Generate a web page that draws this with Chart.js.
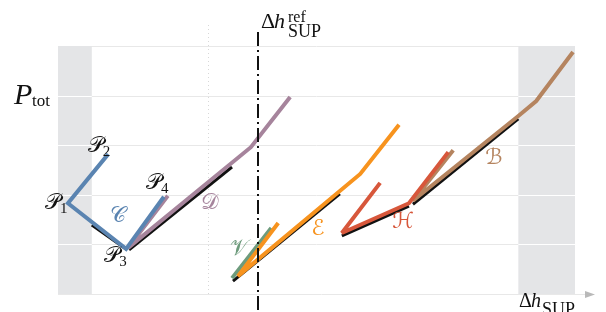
<!DOCTYPE html>
<html><head><meta charset="utf-8">
<script src="https://cdn.jsdelivr.net/npm/chart.js@4/dist/chart.umd.min.js"></script>
<style>html,body{margin:0;padding:0;background:#fff}#wrap{width:606px;height:312px}</style>
</head><body><div id="wrap"><canvas id="c" width="606" height="312"></canvas></div>
<script>
// ---- data (x: Δh_SUP, y: P_tot, arbitrary units) ----
const curveC_x = [1.01, 0.20, 1.37, 2.13];
const curveC_y = [2.82, 1.83, 0.91, 1.96];
const curveD_x = [2.21, 1.41, 3.88, 4.67];
const curveD_y = [1.98, 0.93, 2.96, 3.97];
const curveV_x = [3.50, 4.29];
const curveV_y = [0.32, 1.33];
const curveE_x = [4.43, 3.62, 6.08, 6.86];
const curveE_y = [1.43, 0.36, 2.42, 3.41];
const curveH_x = [6.48, 5.71, 7.06, 7.85];
const curveH_y = [2.24, 1.23, 1.83, 2.86];
const curveB_x = [7.95, 7.14, 9.26, 9.62, 10.36];
const curveB_y = [2.90, 1.88, 3.59, 3.89, 4.88];
// linear fits (black)
const fitC_x = [0.68, 1.39];  const fitC_y = [1.39, 0.89];
const fitD_x = [1.43, 3.50];  const fitD_y = [0.89, 2.56];
const fitE_x = [3.52, 5.67];  const fitE_y = [0.26, 2.02];
const fitH_x = [5.71, 7.06];  const fitH_y = [1.17, 1.77];
const fitB_x = [7.14, 9.26];  const fitB_y = [1.81, 3.53];
// reference lines / bands
const refLineX = 4.03;          // Δh_SUP^ref
const dottedLineX = 3.01;
const bandLeft = [0, 0.68];
const bandRight = [9.26, 10.4];
const gridY = [0, 1, 2, 3, 4, 5];
const yTickLabelValue = 4;      // P_tot
// labels
const labelText = ['𝒫','𝒫','𝒫','𝒫','𝒞','𝒟','𝒱','ℰ','ℋ','ℬ'];
const labelSub  = ['1','2','3','4','','','','','',''];
const labelX    = [-0.10, 0.76, 1.09, 1.93, 1.21, 3.06, 3.64, 5.23, 6.94, 8.77];
const labelY    = [1.83, 2.98, 0.77, 2.24, 1.57, 1.83, 0.91, 1.31, 1.45, 2.74];

const COL = {C:'#5a84b1', D:'#a6849c', V:'#6d9b7c', E:'#f7931e', H:'#d7573b', B:'#b5845f'};
const labelColor = ['#111','#111','#111','#111',COL.C,COL.D,COL.V,COL.E,COL.H,COL.B];

function pts(xs, ys){ return xs.map((x,i)=>({x:x, y:ys[i]})); }
function line(xs, ys, color, w, order){
  return {data: pts(xs,ys), showLine:true, borderColor:color, backgroundColor:color,
          borderWidth:w, pointRadius:0, fill:false, tension:0, order:order,
          borderJoinStyle:'miter', borderCapStyle:'butt'};
}
const datasets = [
  line(curveE_x, curveE_y, COL.E, 4, 1),
  line(curveV_x, curveV_y, COL.V, 4, 2),
  line(curveC_x, curveC_y, COL.C, 4, 1),
  line(curveD_x, curveD_y, COL.D, 4, 2),
  line(curveH_x, curveH_y, COL.H, 4, 1),
  line(curveB_x, curveB_y, COL.B, 4, 2),
  line(fitC_x, fitC_y, '#111', 3, 10),
  line(fitD_x, fitD_y, '#111', 3, 10),
  line(fitE_x, fitE_y, '#111', 3, 10),
  line(fitH_x, fitH_y, '#111', 3, 10),
  line(fitB_x, fitB_y, '#111', 3, 10),
];

const background = {
  id:'background',
  beforeDatasetsDraw(chart){
    const {ctx, chartArea:a, scales:{x, y}} = chart;
    ctx.save();
    // grid lines
    ctx.strokeStyle = '#e8e8e8'; ctx.lineWidth = 1;
    gridY.forEach(v=>{
      const py = Math.round(y.getPixelForValue(v)) + 0.5;
      ctx.beginPath(); ctx.moveTo(a.left, py);
      ctx.lineTo(v === 0 ? a.right + 10 : a.right, py); ctx.stroke();
    });
    // gray bands
    ctx.fillStyle = '#e4e5e7';
    [bandLeft, bandRight].forEach(b=>{
      const x0 = x.getPixelForValue(b[0]), x1 = x.getPixelForValue(b[1]);
      ctx.fillRect(x0, a.top, x1 - x0, a.bottom - a.top);
      ctx.strokeStyle = '#ffffff';
      gridY.forEach(v=>{
        if (v === 0 || v === 5) return;
        const py = Math.round(y.getPixelForValue(v)) + 0.5;
        ctx.beginPath(); ctx.moveTo(x0, py); ctx.lineTo(x1, py); ctx.stroke();
      });
    });
    // arrow head on horizontal axis
    const ay = Math.round(y.getPixelForValue(0)) + 0.5;
    ctx.fillStyle = '#b9b9b9';
    ctx.beginPath(); ctx.moveTo(a.right + 10, ay - 3.5); ctx.lineTo(a.right + 20, ay);
    ctx.lineTo(a.right + 10, ay + 3.5); ctx.closePath(); ctx.fill();
    // dotted vertical
    const dx = Math.round(x.getPixelForValue(dottedLineX)) + 0.5;
    ctx.strokeStyle = '#d8d8d8'; ctx.setLineDash([1, 3]);
    ctx.beginPath(); ctx.moveTo(dx, 25); ctx.lineTo(dx, a.bottom); ctx.stroke();
    ctx.setLineDash([]);
    ctx.restore();
    ctx.miterLimit = 2;   // keep sharp joins short
  },
  afterDatasetsDraw(chart){
    const {ctx, chartArea:a, scales:{x, y}} = chart;
    ctx.miterLimit = 10;
    ctx.save();
    // dash-dot reference line
    const rx = Math.round(x.getPixelForValue(refLineX));
    ctx.strokeStyle = '#111'; ctx.lineWidth = 2; ctx.setLineDash([14, 4, 2, 4]);
    ctx.beginPath(); ctx.moveTo(rx, 32); ctx.lineTo(rx, chart.height); ctx.stroke();
    ctx.setLineDash([]);
    // curve labels
    ctx.textBaseline = 'middle'; ctx.textAlign = 'center';
    labelText.forEach((t, i)=>{
      const px = x.getPixelForValue(labelX[i]), py = y.getPixelForValue(labelY[i]);
      ctx.fillStyle = labelColor[i];
      ctx.font = '22px "DejaVu Serif", "DejaVu Sans", "Noto Sans", serif';
      ctx.fillText(t, px, py);
      if (labelSub[i]) {
        const w = ctx.measureText(t).width;
        ctx.font = '15px "Liberation Serif", serif';
        ctx.textAlign = 'left';
        ctx.fillText(labelSub[i], px + w/2 - 1, py + 6);
        ctx.textAlign = 'center';
      }
    });
    // y label P_tot
    ctx.textBaseline = 'alphabetic'; ctx.textAlign = 'left'; ctx.fillStyle = '#111';
    const py4 = y.getPixelForValue(yTickLabelValue);
    ctx.font = 'italic 30px "Liberation Serif", serif';
    ctx.fillText('P', 14, py4 + 8);
    ctx.font = '17px "Liberation Serif", serif';
    ctx.fillText('tot', 32, py4 + 10);
    // top label Δh_SUP^ref
    ctx.font = '22px "Liberation Serif", serif';
    ctx.fillText('Δ', 261, 28);
    ctx.font = 'italic 22px "Liberation Serif", serif';
    ctx.fillText('h', 274, 28);
    ctx.font = '16px "Liberation Serif", serif';
    ctx.fillText('ref', 288, 22);
    ctx.font = '18px "Liberation Serif", serif';
    ctx.fillText('SUP', 288, 37);
    // bottom label Δh_SUP
    ctx.font = '20px "Liberation Serif", serif';
    ctx.fillText('Δ', 519, 307);
    ctx.font = 'italic 20px "Liberation Serif", serif';
    ctx.fillText('h', 531, 307);
    ctx.font = '18px "Liberation Serif", serif';
    ctx.fillText('SUP', 542, 315);
    ctx.restore();
  }
};

new Chart(document.getElementById('c'), {
  type: 'scatter',
  data: { datasets },
  options: {
    responsive: false, animation: false, devicePixelRatio: 1,
    layout: { padding: { left: 58, right: 31, top: 46, bottom: 18 } },
    plugins: { legend: { display: false }, tooltip: { enabled: false } },
    scales: {
      x: { type: 'linear', min: 0, max: 10.4, display: false },
      y: { type: 'linear', min: 0, max: 5, display: false }
    }
  },
  plugins: [background]
});
</script></body></html>
